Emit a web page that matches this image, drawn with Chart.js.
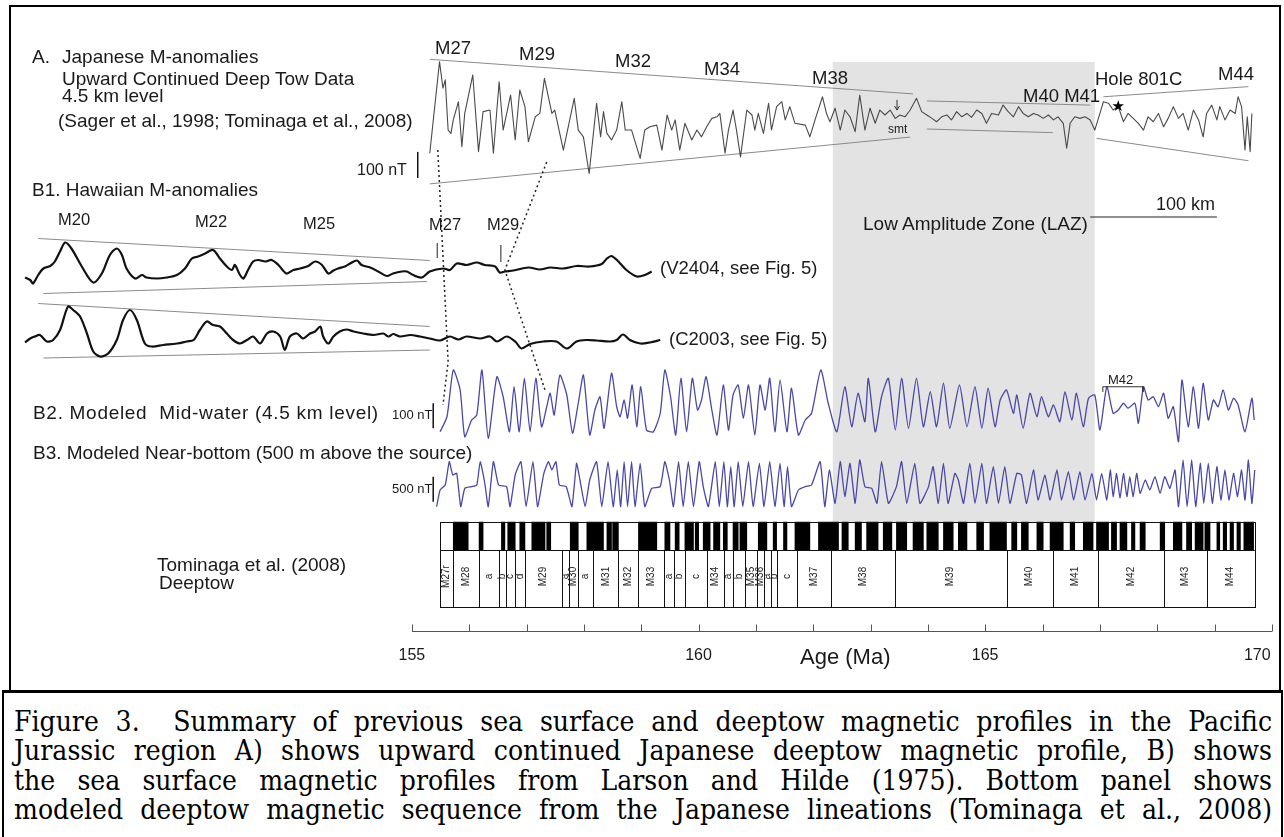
<!DOCTYPE html>
<html lang="en">
<head>
<meta charset="UTF-8">
<title>Figure 3</title>
<script src="https://cdn.jsdelivr.net/npm/chart.js"></script>
<style>
  body { margin: 0; background: #fff; }
  #page { position: relative; width: 1284px; height: 837px; overflow: hidden; background: #fff; }
  #chart { position: absolute; left: 0; top: 0; }
  .frame { position: absolute; left: 9px; top: 5px; width: 1272px; height: 687px; border: 2px solid #000; box-sizing: border-box; }
  .capbox { position: absolute; left: 2px; top: 690px; width: 1281px; height: 160px; border: 2px solid #000; border-top-width: 3px; box-sizing: border-box; }
  .caption { position: absolute; left: 14px; top: 707px; width: 1258px; font-family: "DejaVu Serif", serif; font-stretch: condensed; font-size: 28px; line-height: 29.4px; color: #000; }
  .caption div { text-align: justify; text-align-last: justify; white-space: nowrap; }
  .t { position: absolute; font-family: "Liberation Sans", Arial, sans-serif; line-height: 1; color: #1a1a1a; white-space: pre; }
  .tick { top: 647px; font-size: 16px; }
</style>
</head>
<body>
<div id="page">
  <div class="frame"></div>
  <canvas id="chart" width="1284" height="690"></canvas>

  <!-- panel A -->
  <div class="t" style="left:32px;top:47px;font-size:19px">A.</div>
  <div class="t" style="left:62px;top:47px;font-size:19px">Japanese M-anomalies</div>
  <div class="t" style="left:62px;top:69px;font-size:19px">Upward Continued Deep Tow Data</div>
  <div class="t" style="left:62px;top:86px;font-size:19px">4.5 km level</div>
  <div class="t" style="left:58px;top:111px;font-size:19px">(Sager et al., 1998; Tominaga et al., 2008)</div>
  <div class="t" style="left:357px;top:162px;font-size:16px">100 nT</div>
  <div class="t" style="left:435px;top:39px;font-size:18.5px">M27</div>
  <div class="t" style="left:519px;top:45px;font-size:18.5px">M29</div>
  <div class="t" style="left:615px;top:52px;font-size:18.5px">M32</div>
  <div class="t" style="left:704px;top:60px;font-size:18.5px">M34</div>
  <div class="t" style="left:812px;top:69px;font-size:18.5px">M38</div>
  <div class="t" style="left:1023px;top:87px;font-size:18.5px">M40 M41</div>
  <div class="t" style="left:1095px;top:70px;font-size:18.5px">Hole 801C</div>
  <div class="t" style="left:1218px;top:65px;font-size:18.5px">M44</div>
  <div class="t" style="left:888px;top:123px;font-size:12px">smt</div>

  <!-- panel B1 -->
  <div class="t" style="left:32px;top:180px;font-size:19px">B1. Hawaiian M-anomalies</div>
  <div class="t" style="left:58px;top:211px;font-size:16.5px">M20</div>
  <div class="t" style="left:195px;top:213px;font-size:16.5px">M22</div>
  <div class="t" style="left:303px;top:215px;font-size:16.5px">M25</div>
  <div class="t" style="left:429px;top:216px;font-size:16.5px">M27</div>
  <div class="t" style="left:487px;top:216px;font-size:16.5px">M29</div>
  <div class="t" style="left:660px;top:259px;font-size:18.5px">(V2404, see Fig. 5)</div>
  <div class="t" style="left:669px;top:330px;font-size:18.5px">(C2003, see Fig. 5)</div>
  <div class="t" style="left:863px;top:214px;font-size:19px">Low Amplitude Zone (LAZ)</div>
  <div class="t" style="left:1156px;top:195px;font-size:18px">100 km</div>

  <!-- panels B2, B3 -->
  <div class="t" style="left:33px;top:403px;font-size:19px;letter-spacing:0.7px">B2. Modeled  Mid-water (4.5 km level)</div>
  <div class="t" style="left:392px;top:408px;font-size:13px">100 nT</div>
  <div class="t" style="left:33px;top:443px;font-size:19px">B3. Modeled Near-bottom (500 m above the source)</div>
  <div class="t" style="left:392px;top:482px;font-size:13px">500 nT</div>
  <div class="t" style="left:1108px;top:373px;font-size:13px">M42</div>
  <div class="t" style="left:157px;top:555px;font-size:19px">Tominaga et al. (2008)</div>
  <div class="t" style="left:159px;top:573px;font-size:19px">Deeptow</div>
  <div class="t" style="left:800px;top:646px;font-size:22px">Age (Ma)</div>

  <div class="capbox"></div>
  <div class="caption">
    <div>Figure 3.&nbsp; Summary of previous sea surface and deeptow magnetic profiles in the Pacific</div>
    <div>Jurassic region A) shows upward continued Japanese deeptow magnetic profile, B) shows</div>
    <div>the sea surface magnetic profiles from Larson and Hilde (1975). Bottom panel shows</div>
    <div>modeled deeptow magnetic sequence from the Japanese lineations (Tominaga et al., 2008)</div>
  </div>
</div>

<script>
// ---- data: [age (Ma), anomaly (nT)] ----
const ageTicks = [155, 160, 165, 170];
const minorAges = [155, 156, 157, 158, 159, 160, 161, 162, 163, 164, 165, 166, 167, 168, 169, 170];

// A. Japanese deep tow, upward continued to 4.5 km
const japanA = [[155.31,-120],[155.48,232],[155.54,130],[155.58,162],[155.63,-31],[155.68,-44],[155.72,8],[155.81,78],[155.87,-95],[155.92,33],[156.06,181],[156.16,-114],[156.24,40],[156.36,46],[156.42,-120],[156.52,155],[156.59,-31],[156.72,104],[156.80,-69],[156.88,123],[156.97,59],[157.03,-76],[157.15,20],[157.23,33],[157.31,168],[157.44,33],[157.49,46],[157.64,-108],[157.83,91],[157.90,-31],[157.99,-57],[158.09,-198],[158.22,72],[158.29,-57],[158.34,40],[158.40,-44],[158.48,-69],[158.57,-31],[158.66,78],[158.72,-31],[158.83,-31],[158.98,-140],[159.06,-31],[159.15,-18],[159.27,-12],[159.36,-108],[159.45,27],[159.53,-31],[159.59,8],[159.67,-108],[159.76,-5],[159.88,-69],[159.97,-31],[160.05,-57],[160.14,-18],[160.23,14],[160.32,20],[160.37,33],[160.46,-120],[160.52,-31],[160.60,46],[160.66,-31],[160.73,-134],[160.84,46],[160.93,27],[160.98,-31],[161.04,33],[161.13,-44],[161.22,72],[161.27,-31],[161.36,59],[161.45,78],[161.51,8],[161.59,59],[161.68,-5],[161.86,-12],[161.94,-57],[162.03,8],[162.16,97],[162.23,33],[162.29,1],[162.38,53],[162.47,-31],[162.55,46],[162.64,20],[162.73,-37],[162.81,104],[162.90,-31],[162.99,53],[163.08,-5],[163.16,46],[163.25,27],[163.34,46],[163.43,14],[163.51,27],[163.60,20],[163.69,46],[163.80,91],[163.89,40],[163.98,27],[164.07,14],[164.15,1],[164.24,20],[164.33,27],[164.41,8],[164.50,40],[164.59,20],[164.68,33],[164.76,18],[164.85,46],[164.94,33],[165.02,-5],[165.11,33],[165.23,27],[165.31,65],[165.40,40],[165.49,20],[165.58,59],[165.66,33],[165.75,20],[165.84,33],[165.92,27],[166.01,14],[166.10,27],[166.19,8],[166.27,20],[166.36,-5],[166.42,-101],[166.48,-5],[166.56,20],[166.65,14],[166.74,20],[166.83,8],[166.91,-31],[167.00,33],[167.06,78],[167.15,72],[167.23,46],[167.32,59],[167.41,1],[167.49,33],[167.58,14],[167.67,-5],[167.76,-31],[167.84,20],[167.93,1],[168.02,33],[168.11,-18],[168.19,14],[168.28,59],[168.37,14],[168.45,33],[168.54,-31],[168.63,46],[168.72,8],[168.80,-57],[168.86,33],[168.95,65],[169.04,8],[169.09,59],[169.18,8],[169.27,46],[169.36,33],[169.41,97],[169.47,59],[169.53,-108],[169.57,20],[169.62,-114],[169.65,33]];
const envelopeA = [
  [[155.31,241],[163.74,108]], [[155.31,-238],[163.69,-58]],
  [[163.98,81],[166.83,65]], [[163.98,-27],[166.18,-41]],
  [[167.06,97],[169.59,136]], [[166.94,-63],[169.59,-149]]
];

// B1. Hawaiian sea surface profiles
const v2404 = [[148.25,-19],[148.34,-24],[148.39,-31],[148.48,-14],[148.57,-1],[148.69,4],[148.77,13],[148.86,33],[148.95,51],[149.06,39],[149.24,3],[149.44,-29],[149.59,-11],[149.73,26],[149.85,39],[149.94,26],[150.02,-1],[150.17,-21],[150.29,-14],[150.37,-19],[150.55,-21],[150.72,-19],[150.90,-14],[151.04,-1],[151.16,19],[151.27,23],[151.39,29],[151.53,36],[151.65,19],[151.77,3],[151.86,-4],[151.91,6],[152.00,-14],[152.06,-21],[152.14,-4],[152.23,13],[152.32,16],[152.44,13],[152.55,16],[152.67,6],[152.81,-11],[152.93,-4],[153.05,-1],[153.19,4],[153.31,13],[153.43,6],[153.54,-11],[153.63,-5],[153.71,-1],[153.83,3],[153.92,9],[154.04,15],[154.12,6],[154.27,1],[154.41,-7],[154.56,-16],[154.67,-11],[154.82,-7],[154.91,-7],[155.02,-14],[155.17,-19],[155.31,-7],[155.55,-1],[155.66,-4],[155.78,9],[155.95,6],[156.13,11],[156.27,6],[156.45,3],[156.53,-9],[156.62,-7],[156.77,-5],[157.03,1],[157.23,-3],[157.41,1],[157.64,-1],[157.87,4],[158.10,3],[158.31,8],[158.40,19],[158.48,24],[158.60,13],[158.74,-4],[158.92,-17],[159.06,-14],[159.18,-7]];
const c2003 = [[148.25,-9],[148.34,-1],[148.42,3],[148.51,6],[148.63,-7],[148.74,-4],[148.86,16],[149.00,63],[149.09,56],[149.21,43],[149.33,9],[149.44,-27],[149.56,-37],[149.70,-31],[149.85,-4],[149.96,36],[150.08,56],[150.20,36],[150.34,-11],[150.46,-17],[150.66,-14],[150.90,-11],[151.07,-7],[151.19,-4],[151.30,16],[151.42,33],[151.53,26],[151.65,23],[151.77,9],[151.88,-4],[152.00,-11],[152.12,-4],[152.23,3],[152.35,-11],[152.47,9],[152.58,13],[152.70,3],[152.78,-24],[152.87,3],[152.99,9],[153.10,-1],[153.22,9],[153.31,13],[153.40,23],[153.45,3],[153.54,-11],[153.63,3],[153.74,13],[153.86,17],[153.98,13],[154.15,9],[154.33,6],[154.50,9],[154.59,3],[154.67,8],[154.79,3],[154.97,6],[155.14,3],[155.31,-1],[155.49,-5],[155.66,3],[155.81,-3],[155.95,3],[156.19,-1],[156.36,3],[156.48,-7],[156.65,3],[156.80,-7],[156.91,-21],[157.06,-12],[157.29,-7],[157.52,-7],[157.70,-21],[157.87,-7],[158.05,-4],[158.22,-5],[158.45,-7],[158.57,-4],[158.68,7],[158.80,-4],[158.98,-11],[159.15,-9],[159.33,-4]];
const envelopeV2404 = [[[148.48,59],[155.31,15]], [[148.57,-51],[155.26,-27]]];
const envelopeC2003 = [[[148.48,69],[155.31,23]], [[148.57,-40],[155.31,-24]]];

// B2. modelled mid-water (4.5 km) and B3. near-bottom (500 m) anomalies
const modelMid = [[155.49,-107],[155.61,-47],[155.72,140],[155.84,60],[155.92,-127],[156.04,-60],[156.13,-40],[156.22,140],[156.33,-133],[156.48,113],[156.59,33],[156.70,-107],[156.78,73],[156.87,-107],[156.96,107],[157.06,-107],[157.16,107],[157.26,-87],[157.35,-7],[157.41,47],[157.48,-40],[157.58,120],[157.70,40],[157.80,-113],[157.90,7],[157.99,120],[158.10,-120],[158.19,-20],[158.28,33],[158.35,-93],[158.48,127],[158.57,-7],[158.63,-47],[158.70,20],[158.76,-53],[158.84,80],[158.92,-87],[158.99,73],[159.09,-100],[159.21,-107],[159.33,-33],[159.41,140],[159.51,33],[159.60,-120],[159.69,107],[159.79,-107],[159.89,107],[159.98,-20],[160.05,20],[160.13,113],[160.23,-20],[160.32,-120],[160.43,80],[160.52,-100],[160.60,40],[160.69,80],[160.78,-53],[160.87,80],[160.98,-120],[161.07,80],[161.16,-20],[161.24,107],[161.33,-107],[161.42,100],[161.54,-107],[161.62,67],[161.74,-120],[161.86,-60],[161.97,-33],[162.13,140],[162.26,7],[162.41,-107],[162.55,73],[162.67,-87],[162.78,47],[162.90,-67],[162.96,107],[163.08,-107],[163.19,33],[163.31,107],[163.43,-100],[163.54,107],[163.66,-93],[163.80,107],[163.92,-87],[164.04,53],[164.15,-87],[164.27,87],[164.38,-93],[164.55,80],[164.68,-87],[164.82,73],[164.94,-93],[165.05,67],[165.17,-87],[165.26,20],[165.37,60],[165.49,-33],[165.55,40],[165.66,-93],[165.78,47],[165.90,-47],[165.98,33],[166.10,-47],[166.19,0],[166.30,-67],[166.39,53],[166.51,-60],[166.59,47],[166.71,-87],[166.80,27],[166.91,40],[167.00,-100],[167.12,73],[167.23,-33],[167.32,-20],[167.41,7],[167.49,-13],[167.61,7],[167.67,-73],[167.76,73],[167.84,20],[167.93,33],[168.02,-7],[168.11,47],[168.19,-53],[168.28,-7],[168.37,-147],[168.43,100],[168.54,-87],[168.63,73],[168.72,-93],[168.80,87],[168.89,-60],[168.98,20],[169.06,-7],[169.15,60],[169.24,-20],[169.33,27],[169.41,0],[169.53,-107],[169.65,27],[169.69,-60]];
const modelNear = [[155.43,-453],[155.49,-120],[155.58,-20],[155.65,447],[155.71,180],[155.78,213],[155.85,-453],[155.92,-87],[156.04,-53],[156.13,-20],[156.19,447],[156.27,13],[156.33,-453],[156.42,447],[156.51,-20],[156.65,-53],[156.71,-453],[156.80,180],[156.90,447],[156.99,-453],[157.11,447],[157.19,-453],[157.30,213],[157.38,447],[157.44,280],[157.51,447],[157.57,-20],[157.69,-53],[157.79,-453],[157.87,413],[157.93,80],[158.02,-453],[158.10,80],[158.22,447],[158.31,-453],[158.42,447],[158.51,-453],[158.58,280],[158.64,-453],[158.70,447],[158.76,-453],[158.83,447],[158.89,-453],[158.98,413],[159.06,-453],[159.18,-87],[159.33,-53],[159.41,447],[159.49,80],[159.56,-453],[159.65,447],[159.73,-453],[159.82,447],[159.91,-453],[160.01,447],[160.08,-53],[160.17,-453],[160.29,447],[160.36,-453],[160.44,447],[160.50,-453],[160.56,347],[160.62,-453],[160.69,447],[160.77,-453],[160.87,447],[160.95,-453],[161.06,413],[161.14,-453],[161.24,447],[161.33,-453],[161.42,413],[161.49,-453],[161.55,347],[161.62,-453],[161.74,-120],[161.86,-53],[161.97,-20],[162.12,447],[162.20,-453],[162.28,280],[162.38,-387],[162.47,447],[162.55,-253],[162.64,413],[162.73,-387],[162.81,480],[162.90,-53],[163.02,-87],[163.11,-387],[163.19,447],[163.31,-387],[163.45,-53],[163.54,447],[163.63,-387],[163.77,413],[163.86,-387],[164.01,-53],[164.09,347],[164.18,-387],[164.27,413],[164.35,-387],[164.47,213],[164.53,80],[164.62,-387],[164.73,413],[164.82,-387],[164.94,413],[165.02,-387],[165.14,347],[165.23,-387],[165.34,347],[165.43,-387],[165.55,213],[165.63,180],[165.72,-387],[165.84,280],[165.92,-320],[166.04,180],[166.13,-320],[166.25,280],[166.33,-320],[166.45,247],[166.54,-320],[166.65,247],[166.74,-320],[166.86,213],[166.94,-320],[167.03,213],[167.12,-320],[167.18,280],[167.23,-253],[167.29,213],[167.35,-287],[167.41,213],[167.47,-253],[167.52,147],[167.58,-253],[167.64,213],[167.70,-187],[167.79,80],[167.87,-120],[167.96,147],[168.05,-187],[168.13,147],[168.22,-87],[168.31,280],[168.37,-453],[168.45,480],[168.52,-453],[168.60,480],[168.67,-453],[168.75,413],[168.81,-387],[168.89,413],[168.96,-387],[169.04,347],[169.11,-320],[169.18,280],[169.25,-320],[169.33,213],[169.40,-253],[169.47,280],[169.53,-320],[169.59,480],[169.65,-387],[169.70,280]];

// correlation ties: [track, age, nT]
const tieM27 = [['A',155.45,-108],['B2',155.63,172],['B2',155.54,0]];
const tieM29 = [['A',157.35,-154],['V2404',156.62,-4],['B2',157.32,60]];
const pickMarks = [[155.44,20,50],[156.55,12,46]];      // M27, M29 on V2404
const bracketM42 = [[167.05,52],[167.05,73],[167.75,73],[167.75,52]];

// scale bars: [track, age, lower end nT, length nT]
const scaleBars = [['A',155.10,-215,100],['B2',155.37,-93,100],['B3',155.37,-354,500]];
const kmBar = [166.83, 169.04];   // 100 km

// Tominaga et al. (2008) polarity: normal-polarity intervals [from, to] Ma
const normalChrons = [[155.72,155.98],[156.17,156.24],[156.56,156.62],[156.67,156.80],[156.88,156.97],[157.09,157.32],[157.35,157.42],[157.76,157.90],[158.05,158.34],[158.40,158.48],[158.50,158.60],[158.95,159.27],[159.41,159.50],[159.59,159.66],[159.76,159.91],[159.94,160.00],[160.08,160.20],[160.26,160.37],[160.43,160.50],[160.60,160.69],[160.72,160.84],[161.04,161.19],[161.30,161.36],[161.48,161.54],[161.68,161.94],[162.09,162.44],[162.50,162.61],[162.73,162.84],[162.93,163.13],[163.22,163.37],[163.45,163.63],[163.74,163.92],[163.98,164.18],[164.27,164.44],[164.53,164.68],[164.85,164.97],[165.08,165.37],[165.46,165.55],[165.63,165.75],[165.90,166.01],[166.13,166.36],[166.48,166.56],[166.71,166.88],[166.94,167.15],[167.20,167.29],[167.35,167.47],[167.55,167.61],[167.70,167.79],[168.05,168.13],[168.28,168.43],[168.51,168.60],[168.66,168.80],[168.83,168.92],[169.04,169.09],[169.15,169.21],[169.27,169.33],[169.39,169.45],[169.51,169.68]];
const chronBounds = [155.49,155.72,156.17,156.52,156.64,156.80,156.97,157.61,157.73,157.90,158.16,158.60,158.95,159.40,159.57,159.76,160.14,160.44,160.60,160.81,161.02,161.14,161.26,161.37,161.71,162.31,163.42,165.37,166.18,166.97,168.11,168.86,169.70];
const chronNames = ['M27r','M28','a','b','c','d','M29','a','M30','a','M31','M32','M33','a','b','c','M34','a','b','M35','M36','a','b','c','M37','M38','M39','M40','M41','M42','M43','M44'];
const lowAmpZone = [162.34, 166.91];
const hole801C = [167.32, 58];
const smtArrow = [163.46, 85, 46];

// ---- layout: vertical position of each track (figure units, downwards) ----
const tracks = {
  A:     { base: 122, gain: 0.26 },
  V2404: { base: 268, gain: 0.5 },
  C2003: { base: 338, gain: 0.5 },
  B2:    { base: 405, gain: 0.25 },
  B3:    { base: 484, gain: 0.05 }
};
const band = { top: 522, bottom: 550, table: 607, lazTop: 62 };

function lvl(track, nT) { return tracks[track].base - tracks[track].gain * nT; }
function pts(track, arr) { return arr.map(p => ({ x: p[0], y: lvl(track, p[1]) })); }

function lineSet(data, color, width, order, opts) {
  return Object.assign({ type: 'line', data: data, borderColor: color, borderWidth: width,
           pointRadius: 0, fill: false, tension: 0, clip: false, order: order, borderJoinStyle: 'round' }, opts || {});
}

const datasets = [];
// polarity blocks
datasets.push({
  type: 'bar', indexAxis: 'y', order: 9, grouped: false,
  data: normalChrons.map(c => ({ x: c, y: (band.top + band.bottom) / 2 })),
  backgroundColor: '#000', borderWidth: 0, barThickness: band.bottom - band.top
});
envelopeA.forEach(s => datasets.push(lineSet(pts('A', s), '#8a8a8a', 1, 6)));
envelopeV2404.forEach(s => datasets.push(lineSet(pts('V2404', s), '#8a8a8a', 1, 6)));
envelopeC2003.forEach(s => datasets.push(lineSet(pts('C2003', s), '#8a8a8a', 1, 6)));

datasets.push(lineSet(pts('A', japanA), '#4a4a4a', 1.1, 3));
datasets.push(lineSet(pts('V2404', v2404), '#111', 2.2, 3, { tension: 0.3 }));
datasets.push(lineSet(pts('C2003', c2003), '#111', 2.2, 3, { tension: 0.3 }));
datasets.push(lineSet(pts('B2', modelMid), '#4848a8', 1.3, 3, { tension: 0.2 }));
datasets.push(lineSet(pts('B3', modelNear), '#4848a8', 1.3, 3, { tension: 0.15 }));

[tieM27, tieM29].forEach(t => datasets.push(lineSet(t.map(p => ({ x: p[1], y: lvl(p[0], p[2]) })), '#222', 1.5, 1, { borderDash: [2, 3] })));
pickMarks.forEach(m => datasets.push(lineSet([{ x: m[0], y: lvl('V2404', m[1]) }, { x: m[0], y: lvl('V2404', m[2]) }], '#222', 1, 2)));
datasets.push(lineSet(pts('B2', bracketM42), '#333', 1, 2));
scaleBars.forEach(b => datasets.push(lineSet([{ x: b[1], y: lvl(b[0], b[2]) }, { x: b[1], y: lvl(b[0], b[2] + b[3]) }], '#111', 1.5, 2)));
datasets.push(lineSet(kmBar.map(a => ({ x: a, y: 217 })), '#222', 1.2, 2));

const figureDecor = {
  id: 'figureDecor',
  beforeDatasetsDraw(chart) {
    const { ctx, scales: { x, y } } = chart;
    const l = x.getPixelForValue(lowAmpZone[0]);
    const r = x.getPixelForValue(lowAmpZone[1]);
    ctx.save();
    ctx.fillStyle = '#e3e3e3';
    ctx.fillRect(l, y.getPixelForValue(band.lazTop), r - l, y.getPixelForValue(band.top) - y.getPixelForValue(band.lazTop));
    ctx.restore();
  },
  afterDatasetsDraw(chart) {
    const { ctx, scales: { x, y } } = chart;
    const x0 = x.getPixelForValue(chronBounds[0]);
    const x1 = x.getPixelForValue(chronBounds[chronBounds.length - 1]);
    const yt = y.getPixelForValue(band.top), yb = y.getPixelForValue(band.bottom), yc = y.getPixelForValue(band.table);
    ctx.save();
    // polarity frame and chron table
    ctx.strokeStyle = '#111';
    ctx.lineWidth = 1;
    ctx.strokeRect(Math.round(x0) + 0.5, Math.round(yt) + 0.5, Math.round(x1 - x0), Math.round(yc - yt));
    ctx.beginPath();
    ctx.moveTo(x0, Math.round(yb) + 0.5);
    ctx.lineTo(x1, Math.round(yb) + 0.5);
    chronBounds.forEach(b => {
      const px = Math.round(x.getPixelForValue(b)) + 0.5;
      ctx.moveTo(px, yb);
      ctx.lineTo(px, yc + 1);
    });
    ctx.stroke();
    ctx.fillStyle = '#222';
    ctx.font = '10px "Liberation Sans", Arial, sans-serif';
    ctx.textAlign = 'center';
    ctx.textBaseline = 'middle';
    chronNames.forEach((name, i) => {
      const cx = (x.getPixelForValue(chronBounds[i]) + x.getPixelForValue(chronBounds[i + 1])) / 2;
      ctx.save();
      ctx.translate(cx, (yb + yc) / 2 - 2);
      ctx.rotate(-Math.PI / 2);
      ctx.fillText(name, 0, 0);
      ctx.restore();
    });
    // age axis: line with 1 Ma ticks pointing up
    const ya = chart.chartArea.bottom - 0.5;
    ctx.strokeStyle = '#555';
    ctx.beginPath();
    ctx.moveTo(x.getPixelForValue(ageTicks[0]), ya);
    ctx.lineTo(x.getPixelForValue(ageTicks[ageTicks.length - 1]), ya);
    minorAges.forEach(a => {
      const px = Math.round(x.getPixelForValue(a)) + 0.5;
      ctx.moveTo(px, ya);
      ctx.lineTo(px, ya - 7);
    });
    ctx.stroke();
    // seamount arrow
    const ax = x.getPixelForValue(smtArrow[0]);
    const ay0 = y.getPixelForValue(lvl('A', smtArrow[1])), ay1 = y.getPixelForValue(lvl('A', smtArrow[2]));
    ctx.strokeStyle = '#333';
    ctx.beginPath();
    ctx.moveTo(ax, ay0); ctx.lineTo(ax, ay1);
    ctx.moveTo(ax - 2.5, ay1 - 4); ctx.lineTo(ax, ay1); ctx.lineTo(ax + 2.5, ay1 - 4);
    ctx.stroke();
    // Hole 801C site
    ctx.fillStyle = '#000';
    ctx.font = '15px "DejaVu Sans", sans-serif';
    ctx.fillText('\u2605', x.getPixelForValue(hole801C[0]), y.getPixelForValue(lvl('A', hole801C[1])));
    ctx.restore();
  }
};

const chart = new Chart(document.getElementById('chart'), {
  type: 'line',
  data: { datasets: datasets },
  plugins: [figureDecor],
  options: {
    responsive: false,
    animation: false,
    devicePixelRatio: 1,
    events: [],
    layout: { padding: { left: 10.7, right: 0.6, top: 0, bottom: 58 } },
    plugins: { legend: { display: false }, tooltip: { enabled: false } },
    scales: {
      x: { type: 'linear', min: 148, max: 170.2, display: false, offset: false },
      y: { type: 'linear', min: 0, max: 632, reverse: true, display: false, offset: false }
    }
  }
});

// age labels under the axis, placed from the x scale
const page = document.getElementById('page');
ageTicks.forEach((v, i) => {
  const d = document.createElement('div');
  d.className = 't tick';
  d.textContent = String(v);
  page.appendChild(d);
  const px = chart.scales.x.getPixelForValue(v);
  const w = d.offsetWidth;
  d.style.left = (i === ageTicks.length - 1 ? px - w - 1 : px - w / 2) + 'px';
});
</script>
</body>
</html>
